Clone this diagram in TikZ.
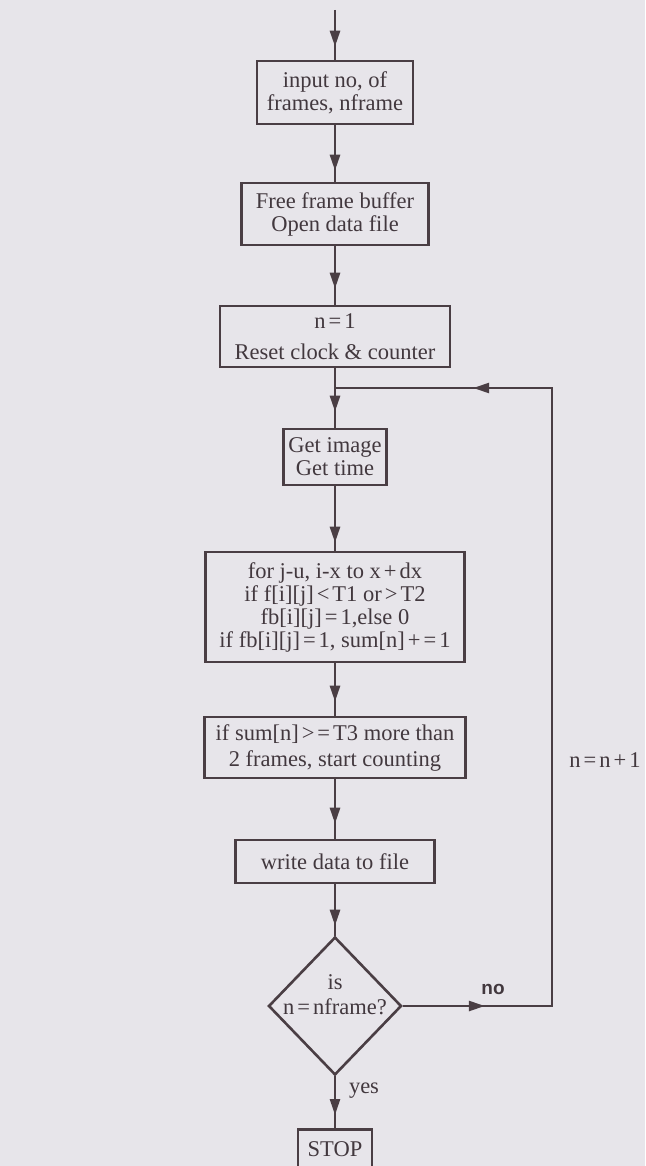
\documentclass[tikz,border=0pt]{standalone}
\usepackage{fontspec}
\setmainfont{Liberation Serif}
\newfontfamily\labelsans{Liberation Sans}
\usetikzlibrary{arrows.meta,decorations.markings,shapes.geometric}
\definecolor{bgc}{RGB}{231,229,234}
\definecolor{linec}{RGB}{74,62,68}
\definecolor{textc}{RGB}{66,56,62}
\newcommand\ts[1]{{\spaceskip=3pt\relax#1}}
\newcommand\mainsz{\fontsize{22.5pt}{23pt}\selectfont}
\tikzset{
  box/.style={draw=linec, line width=2.6pt, align=center, font=\mainsz, text=textc, inner sep=0pt},
  txt/.style={align=center, font=\mainsz, text=textc, inner sep=0pt},
  flow/.style={draw=linec, line width=2.6pt},
  tipat/.style={decoration={markings, mark=at position #1 with {\arrow[linec]{Triangle[length=16pt,width=10pt]}}}, postaction={decorate}},
}
\begin{document}
\begin{tikzpicture}[x=1pt,y=-1pt]
\clip (0,0) rectangle (645,1166);
\fill[bgc] (0,0) rectangle (645,1166);
% boxes
\node[box, minimum width=156pt, minimum height=63pt] (b1) at (335,92.5) {input no, of\\frames, nframe};
\node[box, minimum width=187pt, minimum height=62pt] (b2) at (335,214) {Free frame buffer\\Open data file};
\node[box, minimum width=230pt, minimum height=61pt] (b3) at (335,336.5) {n\ts{ = }1\\[8pt]Reset clock \& counter};
\node[box, minimum width=103pt, minimum height=56pt] (b4) at (335,457) {Get image\\Get time};
\node[box, minimum width=259pt, minimum height=110pt] (b5) at (335,607) {for j-u, i-x to x\ts{ + }dx\\if f[i][j]\ts{ < }T1 or\ts{ > }T2\\fb[i][j]\ts{ = }1,else 0\\if fb[i][j]\ts{ = }1, sum[n]\ts{ + = }1};
\node[box, minimum width=261pt, minimum height=61pt] (b6) at (335,747.5) {if sum[n]\ts{ > = }T3 more than\\[3pt]2 frames, start counting};
\node[box, minimum width=199pt, minimum height=43pt] (b7) at (335,861.5) {write data to file};
\node[diamond, draw=linec, line width=2.6pt, minimum width=133pt, minimum height=138pt, inner sep=0pt] (d) at (335,1006) {};
\node[txt, font=\fontsize{22.5pt}{25pt}\selectfont] (dt) at (335,995) {is\\n\ts{ = }nframe?};
\node[box, anchor=north, minimum width=74pt, minimum height=70pt] (stop) at (335,1128) {};
\node[txt] (stoptxt) at (335,1149) {STOP};
% labels
\node[txt] (inc) at (605,760) {n\ts{ = }n\ts{ + }1};
\node[txt] (yes) at (364,1091) {yes};
\node[inner sep=0pt, text=textc, font=\labelsans\bfseries\fontsize{19pt}{19pt}\selectfont] (no) at (493,989) {no};
% coordinates
\coordinate (start) at (335,10);
\coordinate (j) at (335,388);
\coordinate (rt) at (552,388);
\coordinate (rb) at (552,1006);
% connectors
\draw[flow, tipat=-13pt] (start) -- (b1.north);
\draw[flow, tipat=-11pt] (b1.south) -- (b2.north);
\draw[flow, tipat=-16pt] (b2.south) -- (b3.north);
\draw[flow] (b3.south) -- (j);
\draw[flow, tipat=-16pt] (j) -- (b4.north);
\draw[flow, tipat=-8pt] (b4.south) -- (b5.north);
\draw[flow, tipat=-14pt] (b5.south) -- (b6.north);
\draw[flow, tipat=-15pt] (b6.south) -- (b7.north);
\draw[flow, tipat=-10pt] (b7.south) -- (d.north);
\draw[flow, tipat=-13pt] (d.south) -- (stop.north);
\draw[flow, line join=miter, decoration={markings,
    mark=at position 82pt with {\arrow[linec]{Triangle[length=16pt,width=10pt]}},
    mark=at position 846pt with {\arrow[linec]{Triangle[length=16pt,width=10pt]}}},
    postaction={decorate}]
  (d.east) -- (rb) -- (rt) -- (j);
\end{tikzpicture}
\end{document}
